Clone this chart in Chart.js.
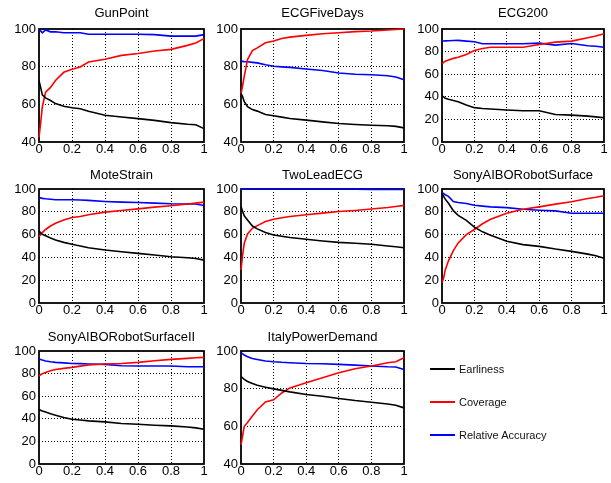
<!DOCTYPE html>
<html><head><meta charset="utf-8">
<script src="https://cdn.jsdelivr.net/npm/chart.js@4"></script>
<style>
html,body{margin:0;padding:0;background:#fff;overflow:hidden;width:611px;height:483px;position:relative;}
canvas{position:absolute;}
.legline{position:absolute;height:1.5px;width:25px;}
.legtext{position:absolute;font:11px "Liberation Sans",Arial,sans-serif;color:#111;line-height:14px;white-space:nowrap;}
</style></head><body>
<script>
// ---------- data ----------
const X = [0, 0.01, 0.02, 0.04, 0.07, 0.1, 0.15, 0.2, 0.25, 0.3, 0.4, 0.5, 0.6, 0.7, 0.8, 0.9, 0.95, 1];
const X_TICK_LABELS = ['0', '0.2', '0.4', '0.6', '0.8', '1'];
const TITLES = ['GunPoint', 'ECGFiveDays', 'ECG200', 'MoteStrain', 'TwoLeadECG',
  'SonyAIBORobotSurface', 'SonyAIBORobotSurfaceII', 'ItalyPowerDemand'];
const SERIES_NAMES = ['Earliness', 'Coverage', 'Relative Accuracy'];
const Y_MIN = [40, 40, 0, 0, 0, 0, 0, 40];
const Y_MAX = [100, 100, 100, 100, 100, 100, 100, 100];

const GUNPOINT_EARLINESS = [72.5, 69, 65, 63.4, 62, 60.4, 59, 58.2, 57.7, 56.3, 54.2, 53.3, 52.4, 51.5, 50.3, 49.4, 49.2, 47.1];
const GUNPOINT_COVERAGE  = [42.5, 50, 58.6, 66.5, 69, 72.7, 77, 78.6, 79.8, 82.5, 83.9, 86, 87, 88.3, 89.2, 91.3, 92.6, 94.9];
const GUNPOINT_ACCURACY  = [99.5, 99, 98, 99.5, 98.5, 98.5, 98, 98, 98, 97.2, 97.2, 97.2, 97.2, 97, 96.2, 96.2, 96.2, 97];

const ECGFIVEDAYS_EARLINESS = [65.9, 64, 61.4, 58.8, 57.2, 56.4, 54.6, 53.9, 53.2, 52.5, 51.6, 50.7, 49.8, 49.3, 48.9, 48.6, 48.3, 47.5];
const ECGFIVEDAYS_COVERAGE  = [65.4, 70, 74.8, 83.8, 88.5, 90, 92.7, 93.6, 95, 95.7, 96.6, 97.5, 98, 98.6, 98.9, 99.5, 99.7, 100];
const ECGFIVEDAYS_ACCURACY  = [82.9, 82.8, 82.7, 82.6, 82.3, 82, 81, 80.2, 79.9, 79.6, 78.8, 78, 76.6, 76, 75.7, 75.2, 74.5, 73];

const ECG200_EARLINESS = [40.8, 40, 38.7, 37.8, 36.8, 35.7, 32.7, 30.4, 29.6, 29.2, 28.3, 27.7, 27.7, 24.4, 23.8, 22.9, 22.2, 21.4];
const ECG200_COVERAGE  = [69, 70.5, 71.4, 72.5, 74, 75, 77.4, 81, 82.7, 83.9, 83.9, 83.9, 86.3, 88.4, 89.3, 92.3, 93.8, 95.8];
const ECG200_ACCURACY  = [89.3, 89.4, 89.5, 89.6, 89.8, 89.9, 89.3, 88.7, 86.9, 86.9, 86.9, 86.9, 87.5, 85.7, 87.2, 85.2, 84.8, 83.9];

const MOTESTRAIN_EARLINESS = [63.2, 61.5, 60.3, 59, 57, 55.3, 53.2, 51.5, 50, 48.5, 46.5, 45, 43.5, 42.1, 40.6, 39.7, 39, 37.6];
const MOTESTRAIN_COVERAGE  = [58.2, 60, 61.8, 64.5, 67.5, 70, 72.9, 75, 75.9, 77.4, 79.7, 81.2, 82.6, 84.1, 85.3, 86.8, 87.6, 88.5];
const MOTESTRAIN_ACCURACY  = [92.6, 92.2, 91.8, 91.4, 91, 90.6, 90.6, 90.6, 90.3, 90, 89.1, 88.5, 88.2, 87.6, 87, 86.8, 86.8, 85.6];

const TWOLEADECG_EARLINESS = [84.7, 80.3, 76.5, 72.9, 67.5, 65, 61.8, 59.7, 58.5, 57.4, 55.9, 54.4, 53.2, 52.4, 51.5, 50, 49.3, 48.5];
const TWOLEADECG_COVERAGE  = [29, 42, 52.4, 60.5, 65.5, 67.9, 71.5, 73.5, 74.8, 75.9, 77.4, 78.8, 80.3, 81.2, 82.4, 83.8, 84.7, 85.6];
const TWOLEADECG_ACCURACY  = [99.8, 99.8, 99.8, 99.8, 99.8, 99.8, 99.8, 99.8, 99.8, 99.8, 99.8, 99.8, 99.8, 99.8, 99.7, 99.6, 99.6, 99.5];

const SONYAIBO_EARLINESS = [96.2, 93.5, 91.1, 87.5, 81, 76.9, 72.5, 66.6, 62.4, 59.5, 54.1, 51.2, 49.7, 47.3, 45.3, 42.9, 41.5, 39.3];
const SONYAIBO_COVERAGE  = [18, 22, 29, 37, 46, 52.7, 60, 64.5, 69.5, 73.4, 78.7, 82.2, 84.3, 86.7, 88.8, 91.7, 92.8, 94.1];
const SONYAIBO_ACCURACY  = [97, 96, 95, 93.5, 89, 88.2, 87.3, 85.8, 85, 84.3, 83.7, 82.2, 81.4, 80.8, 78.7, 78.7, 78.7, 78.7];

const SONYAIBO2_EARLINESS = [48.2, 47.5, 46.8, 46, 44.5, 43.2, 41.1, 39.6, 38.9, 38.2, 37.3, 35.8, 35.2, 34.3, 33.7, 32.8, 32, 30.8];
const SONYAIBO2_COVERAGE  = [78.1, 79, 79.8, 81, 82.5, 83.7, 84.6, 85.5, 86.6, 87.6, 88.5, 89, 89.9, 91.4, 92.6, 93.5, 94, 94.4];
const SONYAIBO2_ACCURACY  = [92.9, 92.5, 92, 91.2, 90.5, 89.9, 89.5, 89, 88.8, 88.5, 88.2, 87, 86.7, 86.7, 86.7, 86.1, 86.1, 86.1];

const ITALY_EARLINESS = [86.6, 85.7, 84.9, 83.8, 82.7, 81.8, 80.8, 79.9, 79.1, 78.3, 76.9, 76, 74.8, 73.7, 72.8, 71.9, 71.2, 69.8];
const ITALY_COVERAGE  = [50.2, 55, 60, 62, 65.5, 68.8, 72.9, 74.1, 77.7, 80.4, 83.1, 85.8, 88.4, 90.6, 92, 93.8, 94.3, 96.4];
const ITALY_ACCURACY  = [99.1, 98.5, 97.9, 97, 96, 95.5, 94.7, 94.3, 94, 93.8, 93.4, 93.2, 92.9, 92.5, 92, 91.6, 91.5, 90.2];

const PANEL_SERIES = [
  [GUNPOINT_EARLINESS, GUNPOINT_COVERAGE, GUNPOINT_ACCURACY],
  [ECGFIVEDAYS_EARLINESS, ECGFIVEDAYS_COVERAGE, ECGFIVEDAYS_ACCURACY],
  [ECG200_EARLINESS, ECG200_COVERAGE, ECG200_ACCURACY],
  [MOTESTRAIN_EARLINESS, MOTESTRAIN_COVERAGE, MOTESTRAIN_ACCURACY],
  [TWOLEADECG_EARLINESS, TWOLEADECG_COVERAGE, TWOLEADECG_ACCURACY],
  [SONYAIBO_EARLINESS, SONYAIBO_COVERAGE, SONYAIBO_ACCURACY],
  [SONYAIBO2_EARLINESS, SONYAIBO2_COVERAGE, SONYAIBO2_ACCURACY],
  [ITALY_EARLINESS, ITALY_COVERAGE, ITALY_ACCURACY]
];

// ---------- styles / layout ----------
const SERIES_COLORS = ['#000000', '#ff0000', '#0000ff'];
const FONT = '"Liberation Sans", Arial, Helvetica, sans-serif';
const COL_L = [39, 241, 442], COL_W = [165, 163, 162];
const ROW_T = [29, 189, 351], ROW_H = [113, 114, 113];
const TITLE_GAP = [15.5, 14, 13.5];
const ML = 40, MT = 28, MR = 10, MB = 22;

const framePlugin = {
  id: 'frame',
  beforeDatasetsDraw(chart) {
    const a = chart.chartArea, c = chart.ctx;
    c.save();
    c.strokeStyle = '#000'; c.lineWidth = 1.8;
    c.strokeRect(a.left, a.top, a.right - a.left, a.bottom - a.top);
    c.restore();
  },
  afterDraw(chart, args, opts) {
    const a = chart.chartArea, c = chart.ctx;
    c.save();
    c.fillStyle = '#000';
    c.font = '13px ' + FONT;
    c.textAlign = 'center'; c.textBaseline = 'middle';
    c.fillText(opts.text, (a.left + a.right) / 2, a.top - opts.gap);
    c.restore();
  }
};

for (let p = 0; p < 8; p++) {
  const row = Math.floor(p / 3), col = p % 3;
  const L = COL_L[col], W = COL_W[col], T = ROW_T[row], H = ROW_H[row];
  const cv = document.createElement('canvas');
  cv.width = ML + W + MR; cv.height = MT + H + MB;
  cv.style.left = (L - ML) + 'px'; cv.style.top = (T - MT) + 'px';
  cv.style.width = cv.width + 'px'; cv.style.height = cv.height + 'px';
  document.body.appendChild(cv);
  const ymin = Y_MIN[p], ymax = Y_MAX[p];
  const gridColor = (lo, hi) => (ctx) => (ctx.tick && (Math.abs(ctx.tick.value - lo) < 1e-6 || Math.abs(ctx.tick.value - hi) < 1e-6)) ? 'rgba(0,0,0,0)' : '#000';
  new Chart(cv, {
    type: 'line',
    data: {
      datasets: PANEL_SERIES[p].map((arr, k) => ({
        label: SERIES_NAMES[k],
        data: X.map((x, i) => ({ x: x, y: arr[i] })),
        borderColor: SERIES_COLORS[k],
        borderWidth: 1.6,
        pointRadius: 0,
        tension: 0,
        fill: false,
        clip: 3
      }))
    },
    options: {
      responsive: false, animation: false, devicePixelRatio: 1,
      layout: { padding: { top: MT, left: 0, right: MR, bottom: 0 } },
      plugins: { legend: { display: false }, tooltip: { enabled: false }, title: { display: false },
        frame: { text: TITLES[p], gap: TITLE_GAP[row] } },
      scales: {
        x: {
          type: 'linear', min: 0, max: 1,
          ticks: { stepSize: 0.2, color: '#000', font: { size: 13, family: FONT }, padding: 0, maxRotation: 0, autoSkip: false,
            callback: (v, i) => X_TICK_LABELS[i] },
          grid: { color: gridColor(0, 1), lineWidth: 1, drawTicks: false },
          border: { display: false, dash: [1, 2] },
          afterFit: (s) => { s.height = MB; }
        },
        y: {
          min: ymin, max: ymax,
          ticks: { stepSize: 20, color: '#000', font: { size: 13, family: FONT }, padding: 3 },
          grid: { color: gridColor(ymin, ymax), lineWidth: 1, drawTicks: false },
          border: { display: false, dash: [1, 2] },
          afterFit: (s) => { s.width = ML; }
        }
      }
    },
    plugins: [framePlugin]
  });
}

// ---------- legend ----------
const LEG_Y = [369, 402, 435];
SERIES_NAMES.forEach((name, k) => {
  const ln = document.createElement('div');
  ln.className = 'legline';
  ln.style.left = '430px'; ln.style.top = (LEG_Y[k] - 0.75) + 'px';
  ln.style.background = SERIES_COLORS[k];
  document.body.appendChild(ln);
  const t = document.createElement('div');
  t.className = 'legtext';
  t.style.left = '459px'; t.style.top = (LEG_Y[k] - 7) + 'px';
  t.textContent = name;
  document.body.appendChild(t);
});
</script>
</body></html>
